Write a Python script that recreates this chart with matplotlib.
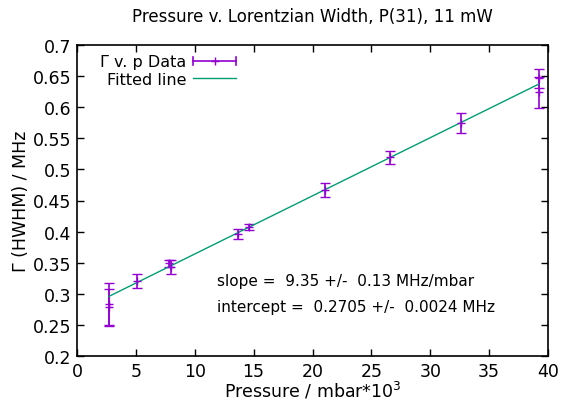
import matplotlib
matplotlib.use('Agg')
import matplotlib.pyplot as plt
from matplotlib.legend_handler import HandlerBase
from matplotlib.lines import Line2D
import numpy as np

# pressure in mbar*10^3, width in MHz, error in MHz
pressure = [2.7, 2.7, 5.1, 7.85, 8.0, 13.7, 14.6, 21.05, 26.6, 32.6, 39.2, 39.2]
width = [0.283, 0.279, 0.321, 0.349, 0.343, 0.396, 0.408, 0.4667, 0.5195, 0.5745, 0.6465, 0.624]
width_err = [0.034, 0.029, 0.011, 0.006, 0.011, 0.008, 0.005, 0.0115, 0.0105, 0.0155, 0.015, 0.025]

slope = 9.35e-3       # MHz per (mbar*10^3)
intercept = 0.2705

PURPLE = '#9400D3'
GREEN = '#009E73'

plt.rcParams['font.family'] = 'DejaVu Sans'


class HErrHandler(HandlerBase):
    # gnuplot-style key sample: horizontal bar with end caps and a point
    def create_artists(self, legend, orig, xd, yd, w, h, fs, trans):
        y = yd + h / 2
        c = h * 0.35
        arts = [Line2D([xd, xd + w], [y, y], color=PURPLE, lw=1.2),
                Line2D([xd, xd], [y - c, y + c], color=PURPLE, lw=1.2),
                Line2D([xd + w, xd + w], [y - c, y + c], color=PURPLE, lw=1.2),
                Line2D([xd + w / 2], [y], marker='+', color=PURPLE, ms=6, mew=1.0)]
        for a in arts:
            a.set_transform(trans)
        return arts


fig = plt.figure(figsize=(5.65, 4.02), dpi=100)
ax = fig.add_axes([77 / 565, 45 / 402, 471 / 565, 311 / 402])

eb = ax.errorbar(pressure, width, yerr=width_err, fmt='+', color=PURPLE,
                 ecolor=PURPLE, elinewidth=1.2, capsize=3.5, capthick=1.2,
                 markersize=6, markeredgewidth=1.0)

xf = np.array([min(pressure), max(pressure)])
fit, = ax.plot(xf, intercept + slope * xf, '-', color=GREEN, linewidth=1.0)

ax.set_xlim(0, 40)
ax.set_ylim(0.2, 0.7)
ax.set_xticks(np.arange(0, 41, 5))
ax.set_yticks(np.arange(0.2, 0.701, 0.05))
ax.set_yticklabels(['0.2', '0.25', '0.3', '0.35', '0.4', '0.45', '0.5',
                    '0.55', '0.6', '0.65', '0.7'])
ax.tick_params(direction='in', top=True, right=True, length=5, width=1,
               labelsize=12.5, pad=4)
for s in ax.spines.values():
    s.set_linewidth(1.2)

ax.set_xlabel('Pressure / mbar*10$^3$', fontsize=12.5, labelpad=0)
ax.set_ylabel('Γ (HWHM) / MHz', fontsize=12.5, labelpad=2)
ax.set_title('Pressure v. Lorentzian Width, P(31), 11 mW', fontsize=12, pad=17)

ax.text(11.9, 0.321, 'slope =  9.35 +/-  0.13 MHz/mbar', fontsize=11,
        va='center')
ax.text(11.9, 0.279, 'intercept =  0.2705 +/-  0.0024 MHz', fontsize=11,
        va='center')

leg = ax.legend([eb, fit], ['Γ v. p Data', 'Fitted line'],
                handler_map={type(eb): HErrHandler()},
                loc='upper left', markerfirst=False, frameon=False,
                fontsize=11.5, handlelength=2.7, borderaxespad=0.0,
                labelspacing=0.15, handletextpad=0.45,
                bbox_to_anchor=(0.035, 0.99))
for t in leg.get_texts():
    t.set_ha('right')

fig.savefig('out.png', dpi=100)
